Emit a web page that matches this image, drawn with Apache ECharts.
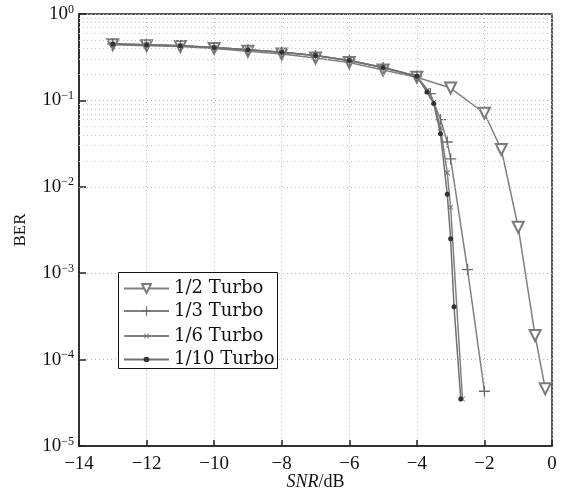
<!DOCTYPE html>
<html><head><meta charset="utf-8">
<script src="https://cdn.jsdelivr.net/npm/echarts@6/dist/echarts.min.js"></script>
<style>html,body{margin:0;padding:0;background:#fff}#c{width:570px;height:492px}</style>
</head><body><div id="c"></div>
<script>
// ---- data ----
const names = ['1/2 Turbo', '1/3 Turbo', '1/6 Turbo', '1/10 Turbo'];
const snrHalf  = [-13,-12,-11,-10,-9,-8,-7,-6,-5,-4,-3,-2,-1.5,-1,-0.5,-0.2];
const berHalf  = [0.44,0.43,0.42,0.40,0.37,0.345,0.31,0.275,0.225,0.185,0.139,0.071,0.027,0.0034,1.9e-4,4.6e-5];
const snrThird = [-13,-12,-11,-10,-9,-8,-7,-6,-5,-4,-3.6,-3.3,-3.1,-3.0,-2.5,-2.0];
const berThird = [0.45,0.44,0.43,0.41,0.385,0.36,0.33,0.29,0.24,0.19,0.12,0.06,0.033,0.021,0.0011,4.3e-5];
const snrSixth = [-13,-12,-11,-10,-9,-8,-7,-6,-5,-4,-3.7,-3.5,-3.3,-3.1,-3.0,-2.65];
const berSixth = [0.45,0.44,0.43,0.41,0.385,0.36,0.33,0.29,0.24,0.19,0.13,0.095,0.048,0.0145,0.0058,3.5e-5];
const snrTenth = [-13,-12,-11,-10,-9,-8,-7,-6,-5,-4,-3.7,-3.5,-3.3,-3.1,-3.0,-2.9,-2.7];
const berTenth = [0.45,0.44,0.43,0.41,0.385,0.36,0.33,0.29,0.24,0.19,0.125,0.092,0.041,0.0082,0.0025,4.1e-4,3.5e-5];

const pair = (xs, ys) => xs.map((x, i) => [x, ys[i]]);
const minorVals = [];
for (let k = -5; k < 0; k++) for (let m = 2; m <= 9; m++) minorVals.push(+(m * Math.pow(10, k)).toPrecision(3));

const serif = '"Liberation Serif", "DejaVu Serif", serif';
const legFont = '"DejaVu Serif", serif';
const lineGrey = '#808080';
const plusPath = 'path://M0,4.4L10,4.4L10,5.6L0,5.6ZM4.4,0L5.6,0L5.6,10L4.4,10Z';

// one legend per row so each legend marker can have its own size
const legendIconH = [11, 12, 8, 7];
const legends = names.map((n, i) => ({
  data: [n], orient: 'vertical', left: 123, top: 285 + 23 * i - legendIconH[i] / 2,
  padding: 0, itemWidth: 45, itemHeight: legendIconH[i], selectedMode: false, z: 60,
  textStyle: {fontFamily: legFont, fontSize: 18, color: '#111'}
}));

const chart = echarts.init(document.getElementById('c'), null, {renderer: 'canvas'});
chart.setOption({
  animation: false,
  backgroundColor: '#fff',
  grid: {left: 79, right: 18, top: 14, bottom: 46, outerBoundsMode: 'none', containLabel: false,
         show: true, borderColor: '#222', borderWidth: 1.5, backgroundColor: 'transparent'},
  graphic: [{type: 'rect', left: 118, top: 272, z: 50,
             shape: {width: 159, height: 96},
             style: {fill: '#fff', stroke: '#111', lineWidth: 1}}],
  legend: legends,
  xAxis: {
    type: 'value', min: -14, max: 0, interval: 2,
    axisLine: {show: true, onZero: false, lineStyle: {color: '#222', width: 1.5}},
    axisTick: {show: true, inside: true, length: 6, lineStyle: {color: '#222', width: 1.5}},
    axisLabel: {fontFamily: serif, fontSize: 19, color: '#111', margin: 9,
      formatter: v => (v < 0 ? '\u2212' : '') + Math.abs(v)},
    splitLine: {show: true, lineStyle: {color: '#b5b5b5', type: [1, 3], width: 1}},
    name: '{i|SNR}{n|/dB}', nameLocation: 'middle', nameGap: 27, nameMoveOverlap: false,
    nameTextStyle: {rich: {
      i: {fontFamily: serif, fontStyle: 'italic', fontSize: 18, color: '#111'},
      n: {fontFamily: serif, fontSize: 18, color: '#111'}}}
  },
  yAxis: {
    type: 'log', logBase: 10, min: 1e-5, max: 1,
    axisLine: {show: true, onZero: false, lineStyle: {color: '#222', width: 1.5}},
    axisTick: {show: true, inside: true, length: 7, lineStyle: {color: '#222', width: 1.5}},
    axisLabel: {margin: 5,
      formatter: v => { const e = Math.round(Math.log10(v)); return '{b|10}{s|' + (e < 0 ? '\u2212' : '') + Math.abs(e) + '}'; },
      rich: {b: {fontFamily: serif, fontSize: 19, color: '#111'},
             s: {fontFamily: serif, fontSize: 12, color: '#111', padding: [0, 0, 9, 0]}}},
    splitLine: {show: true, lineStyle: {color: '#b5b5b5', type: [1, 3], width: 1}},
    name: 'BER', nameLocation: 'middle', nameGap: 50, nameRotate: 90, nameMoveOverlap: false,
    nameTextStyle: {fontFamily: serif, fontSize: 17, color: '#111'}
  },
  series: [
    {name: 'minor', type: 'line', data: [], z: 1, silent: true,
     markLine: {silent: true, symbol: 'none', label: {show: false},
       lineStyle: {color: '#c4c4c4', type: [1, 3], width: 1},
       data: minorVals.map(v => ({yAxis: v}))}},
    {name: names[0], type: 'line', data: pair(snrHalf, berHalf), z: 3,
     symbol: 'emptyTriangle', symbolRotate: 180, symbolSize: 11,
     lineStyle: {color: lineGrey, width: 1.5},
     itemStyle: {color: '#7a7a7a', borderWidth: 1.5}},
    {name: names[1], type: 'line', data: pair(snrThird, berThird), z: 4,
     symbol: plusPath, symbolSize: 11,
     lineStyle: {color: lineGrey, width: 1.5}, itemStyle: {color: '#6a6a6a'}},
    {name: names[2], type: 'line', data: pair(snrSixth, berSixth), z: 5,
     symbol: plusPath, symbolRotate: 45, symbolSize: 7,
     lineStyle: {color: lineGrey, width: 1.5}, itemStyle: {color: '#6a6a6a'}},
    {name: names[3], type: 'line', data: pair(snrTenth, berTenth), z: 6,
     symbol: 'circle', symbolSize: 5,
     lineStyle: {color: '#707070', width: 1.5}, itemStyle: {color: '#333'}}
  ]
});
</script></body></html>
